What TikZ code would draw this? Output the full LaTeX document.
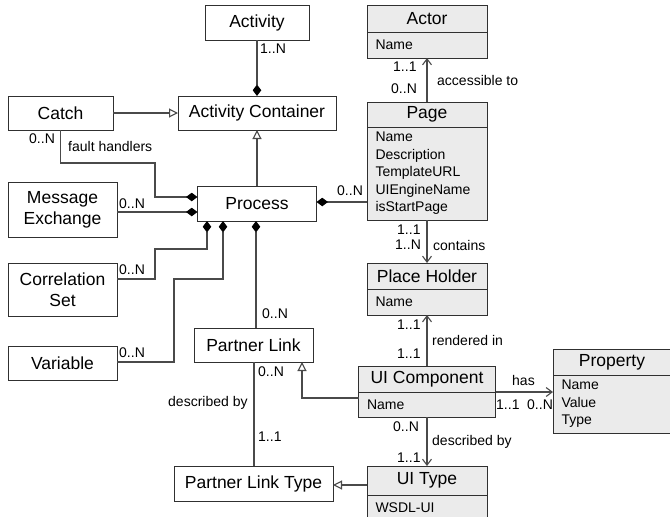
\documentclass[tikz,border=0pt]{standalone}
\usepackage{fontspec}
\setmainfont{Liberation Sans}
\usetikzlibrary{arrows.meta,positioning}
\definecolor{classfill}{HTML}{EBEBEB}
\definecolor{boxline}{HTML}{303030}
\definecolor{linkgray}{HTML}{4A4A4A}

\begin{document}
\begin{tikzpicture}[x=1pt,y=-1pt]
    \tikzset{box/.style={draw=boxline, line width=0.9pt, fill=white, inner sep=0pt, outer sep=0pt,
            font=\fontsize{17.5}{21}\selectfont, align=center},
        head/.style={box, fill=classfill},
        attr/.style={draw=boxline, line width=0.9pt, fill=classfill, inner xsep=8.5pt, inner ysep=0pt,
            outer sep=0pt, text width=#1, align=left, font=\fontsize{14}{17.5}\selectfont},
        mult/.style={font=\fontsize{14}{16}\selectfont, inner sep=0pt, anchor=west},
        link/.style={draw=linkgray, line width=1.1pt},
        compose/.style={link, -{Diamond[length=11.5pt,width=8.5pt,color=black]}},
        inherit/.style={link, -{Triangle[open,fill=white,length=9pt,width=9pt]}},
        assoc/.style={link, -{Straight Barb[length=6pt,width=9pt]}}}

    \useasboundingbox (0,0) rectangle (670,517);
    \clip (0,0) rectangle (670,517);

    \node[box, minimum width=104, minimum height=35] (activity) at (257,22.5) {Activity};
    \node[box, minimum width=158, minimum height=34] (actcont) at (257,113) {Activity Container};
    \node[box, minimum width=105, minimum height=34] (catch) at (60.5,113) {Catch};
    \node[box, minimum width=109, minimum height=55] (msgex) at (62.5,209.5) {Message\\Exchange};
    \node[box, minimum width=119, minimum height=35] (process) at (257,203.5) {Process};
    \node[box, minimum width=109, minimum height=53] (corrset) at (62.5,289.5) {Correlation\\Set};
    \node[box, minimum width=109, minimum height=34] (variable) at (62.5,363) {Variable};
    \node[box, minimum width=119, minimum height=34] (plink) at (253.5,345) {Partner Link};
    \node[box, minimum width=159, minimum height=35] (pltype) at (253.5,483.5) {Partner Link Type};

    \node[head, minimum width=120, minimum height=27] (actor) at (427,18.5) {Actor};
    \node[attr=103pt, minimum height=26, below=0pt of actor] (actorattr) {Name};
    \node[head, minimum width=120, minimum height=25] (page) at (427,114.5) {Page};
    \node[attr=103pt, minimum height=93, below=0pt of page] (pageattr)
        {Name\\Description\\TemplateURL\\UIEngineName\\isStartPage};
    \node[head, minimum width=120, minimum height=26] (place) at (427,276) {Place Holder};
    \node[attr=103pt, minimum height=26, below=0pt of place] (placeattr) {Name};
    \node[head, minimum width=137, minimum height=26] (uicomp) at (427,379) {UI Component};
    \node[attr=120pt, minimum height=25, below=0pt of uicomp] (uicompattr) {Name};
    \node[head, minimum width=118, minimum height=26] (property) at (612,362) {Property};
    \node[attr=101pt, minimum height=58, below=0pt of property] (propattr) {Name\\Value\\Type};
    \node[head, minimum width=120, minimum height=29] (uitype) at (427,480.5) {UI Type};
    \node[attr=103pt, minimum height=26, below=0pt of uitype] (uitypeattr) {WSDL-UI};

    \coordinate (fhbend) at (155,163);
    \coordinate (csbend) at (155,249);
    \coordinate (varbend) at (174,279);

    \draw[compose] (activity.south) -- (actcont.north);
    \draw[inherit] (catch.east) -- (actcont.west);
    \draw[inherit] (process.north) -- (actcont.south);
    \draw[compose] (catch.south) |- (fhbend) |- ([yshift=6.5pt]process.west);
    \draw[compose] ([yshift=-2.5pt]msgex.east) -- ([yshift=-8.5pt]process.west);
    \draw[compose] ([yshift=10.5pt]corrset.east) -| (csbend) -| ([xshift=-50pt]process.south);
    \draw[compose] ([yshift=1pt]variable.east) -| (varbend) -| ([xshift=-34pt]process.south);
    \draw[compose] ([xshift=2.5pt]plink.north) -- ([xshift=-1pt]process.south);
    \draw[compose] ([yshift=-28.5pt]pageattr.west) -- ([yshift=1.5pt]process.east);
    \draw[assoc] (page.north) -- (actorattr.south);
    \draw[assoc] (pageattr.south) -- (place.north);
    \draw[assoc] (uicomp.north) -- (placeattr.south);
    \draw[assoc] (uicomp.south east) -- (propattr.west |- uicomp.south east);
    \draw[assoc] (uicompattr.south) -- (uitype.north);
    \draw[inherit] ([yshift=6.5pt]uicompattr.west) -| ([xshift=48.5pt]plink.south);
    \draw[link] ([xshift=0.5pt]plink.south) -- ([xshift=0.5pt]pltype.north);
    \draw[inherit] ([yshift=-4.5pt]uitype.west) -- ([yshift=-1.5pt]pltype.east);

    \node[mult] (m-act) at (260,49) {1..N};
    \node[mult] (m-catch) at (29,139) {0..N};
    \node[mult] (l-fault) at (68,146) {fault handlers};
    \node[mult] (m-msgex) at (119,204) {0..N};
    \node[mult] (m-corr) at (119,270) {0..N};
    \node[mult] (m-var) at (119,353) {0..N};
    \node[mult] (m-plink) at (262,314) {0..N};
    \node[mult] (m-page) at (337,191) {0..N};
    \node[mult] (m-actor) at (393,67) {1..1};
    \node[mult] (m-pageup) at (391,89) {0..N};
    \node[mult] (l-access) at (437,80) {accessible to};
    \node[mult] (m-pagedn) at (397,230) {1..1};
    \node[mult] (m-placeup) at (395,245) {1..N};
    \node[mult] (l-contains) at (433,245) {contains};
    \node[mult] (m-placedn) at (397,325) {1..1};
    \node[mult] (l-render) at (432,340) {rendered in};
    \node[mult] (m-uicup) at (397,354) {1..1};
    \node[mult] (l-has) at (512,380) {has};
    \node[mult] (m-uicright) at (496,405) {1..1};
    \node[mult] (m-prop) at (527,405) {0..N};
    \node[mult] (m-uicdn) at (393,427) {0..N};
    \node[mult] (l-uidesc) at (432,442) {described by};
    \node[mult] (m-uitype) at (397,458) {1..1};
    \node[mult] (m-plinkdn) at (258,372) {0..N};
    \node[mult] (l-pldesc) at (168,403) {described by};
    \node[mult] (m-pltype) at (258,437) {1..1};
\end{tikzpicture}
\end{document}
